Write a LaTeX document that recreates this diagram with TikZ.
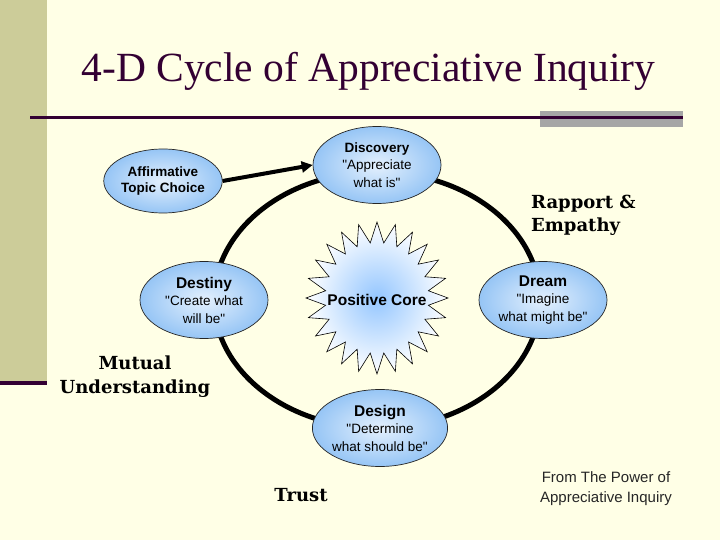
\documentclass[tikz,border=0pt]{standalone}
\usepackage{fontspec}
\setmainfont{Liberation Serif}
\newfontfamily\arialf{Liberation Sans}
\newfontfamily\bookf{DejaVu Serif}
\usetikzlibrary{shapes.geometric,arrows.meta}
\definecolor{bg}{HTML}{FFFFE6}
\definecolor{barc}{HTML}{CCCC99}
\definecolor{plum}{HTML}{330033}
\definecolor{greyb}{HTML}{A6A6A6}
\definecolor{ein}{HTML}{E4F0FD}
\definecolor{eout}{HTML}{96C5F5}
\definecolor{starc}{HTML}{94C6FF}
\newcommand\dtitfont{\bfseries\fontsize{15.5}{18}\selectfont}
\begin{document}
\begin{tikzpicture}[x=1pt,y=-1pt,
  dnode/.style={ellipse, draw=black!85, line width=0.7pt, inner color=ein, outer color=eout,
    minimum width=128pt, minimum height=77pt, inner sep=0pt, align=center,
    font=\arialf\fontsize{13.5}{17.5}\selectfont},
  lbl/.style={font=\bookf\bfseries\fontsize{18}{23.5}\selectfont, inner sep=0pt},
  srcnote/.style={font=\arialf\fontsize{15}{20}\selectfont, inner sep=0pt, align=center, text=black!85},
  cyc/.style={line width=5pt, draw=black},
  arr/.style={line width=4pt, -{Triangle[length=11pt,width=11pt]}}
]
\useasboundingbox[fill=bg] (0,0) rectangle (720,540);
% decorations of the slide
\fill[barc] (0,0) rectangle (47,383);
\draw[plum, line width=4.5pt] (0,383) -- (47,383);
\fill[greyb] (540,111) rectangle (683,127);
\draw[plum, line width=3pt] (30,117.5) -- (683,117.5);
\node[font=\fontsize{41.5}{45}\selectfont, text=plum, anchor=base, inner sep=0pt] (title) at (368.5,82) {4-D Cycle of Appreciative Inquiry};
% cycle
\coordinate (core) at (377,300);
\draw[cyc] (core) ellipse [x radius=163, y radius=128];
% positive core star
\draw[draw=black, line width=0.6pt, inner color=starc, outer color=white]
  plot[samples at={0,7.5,...,352.5}]
  ({377+71*(1-0.27*mod(round(\x/7.5),2))*cos(\x)}, {298+76*(1-0.27*mod(round(\x/7.5),2))*sin(\x)}) -- cycle;
\node[font=\arialf\bfseries\fontsize{15.5}{18}\selectfont, inner sep=0pt] (pc) at (377,300) {Positive Core};
% nodes
\node[dnode, minimum width=117pt, minimum height=64pt, font=\arialf\bfseries\fontsize{13.5}{16}\selectfont] (aff) at (163,181) {Affirmative\\Topic Choice};
\node[dnode] (disc) at (377,165) {{\bfseries\fontsize{13.5}{17}\selectfont Discovery}\\"Appreciate\\what is"};
\node[dnode] (dest) at (204,300) {{\dtitfont Destiny}\\"Create what\\will be"};
\node[dnode] (dream) at (543,300) {{\dtitfont Dream}\\"Imagine\\what might be"};
\node[dnode] (design) at (380,428) {{\dtitfont Design}\\"Determine\\what should be"};
\draw[arr] (aff.east) -- (disc.west);
% labels
\node[lbl, anchor=base west, align=left] (rap) at (531,232) {Rapport \&\\Empathy};
\node[lbl, anchor=base, align=center] (mut) at (135,393) {Mutual\\Understanding};
\node[lbl, anchor=base] (trust) at (301,501) {Trust};
\node[srcnote, anchor=base] (src) at (606,502) {From The Power of\\Appreciative Inquiry};
\end{tikzpicture}
\end{document}
